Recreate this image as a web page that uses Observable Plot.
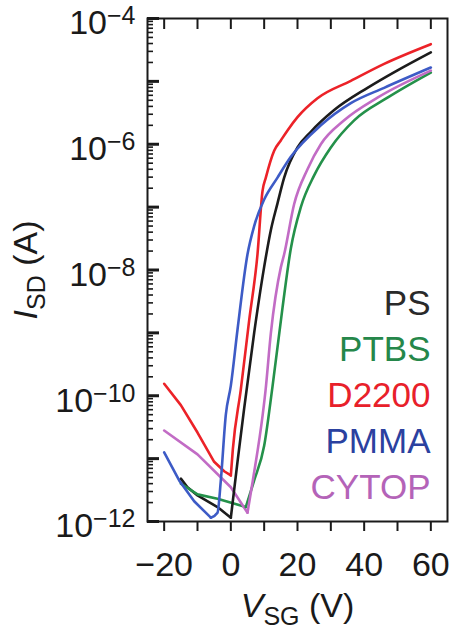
<!DOCTYPE html>
<html><head><meta charset="utf-8">
<script src="https://cdn.jsdelivr.net/npm/d3@7"></script>
<script src="https://cdn.jsdelivr.net/npm/@observablehq/plot@0.6"></script>
<style>
html,body{margin:0;padding:0;background:#fff;}
#chart svg{display:block;}
</style></head><body><div id="chart"></div>
<script>
// ---- data ----
const series = ["PS", "PTBS", "D2200", "PMMA", "CYTOP"];
const lineColors = ["#1c1c1c", "#24914a", "#ec2228", "#3d5bc6", "#c26cc5"];
const legendColors = ["#2a2a2a", "#25874a", "#e8202a", "#2b419f", "#b463b8"];

const psV = [-15, -13, -10, -4, 0, 2, 4, 7, 10, 12, 14, 16, 20, 24, 31, 41, 50, 60];
const psI = [4.8e-12, 3.5e-12, 2.6e-12, 1.7e-12, 1.15e-12, 8.9e-12, 6.3e-11, 1.0e-9, 1.12e-8, 4.3e-8, 1.15e-7, 2.95e-7, 8.9e-7, 1.58e-6, 3.5e-6, 7.9e-6, 1.5e-5, 2.9e-5];

const ptbsV = [-15, -10, -4, 4.5, 7, 10, 12.5, 15.5, 18, 21, 25, 30, 37, 47, 60];
const ptbsI = [4.0e-12, 2.7e-12, 2.3e-12, 1.7e-12, 4.5e-12, 1.6e-11, 1.4e-10, 2.5e-9, 2.2e-8, 1.0e-7, 3.2e-7, 8.9e-7, 2.4e-6, 5.5e-6, 1.38e-5];

const d2200V = [-20, -15, -10, -5, -2, 0, 0.6, 3, 5.5, 8, 9.5, 10.5, 13, 15, 17, 20, 26, 36, 46, 60];
const d2200I = [1.55e-10, 7.1e-11, 2.6e-11, 8.9e-12, 6.3e-12, 5.4e-12, 1.4e-11, 1.26e-10, 1.58e-9, 1.78e-8, 1.8e-7, 2.95e-7, 7.9e-7, 1.15e-6, 1.66e-6, 2.7e-6, 5.4e-6, 1.02e-5, 1.9e-5, 3.9e-5];

const pmmaV = [-20, -15.5, -11, -6, -4, -3, -1.5, 0, 2, 5, 7, 10, 14, 18, 27, 36, 46, 60];
const pmmaI = [1.26e-11, 4.5e-12, 2.1e-12, 1.15e-12, 1.38e-12, 4.5e-12, 5.0e-11, 1.45e-10, 1.12e-9, 1.78e-8, 5.0e-8, 1.32e-7, 2.95e-7, 6.3e-7, 2.0e-6, 4.5e-6, 7.9e-6, 1.66e-5];

const cytopV = [-20, -10, 0, 5, 6.6, 9.6, 10.4, 12, 15, 16, 19, 23, 27, 34, 44, 60];
const cytopI = [2.8e-11, 1.17e-11, 3.5e-12, 1.38e-12, 4.5e-12, 5.2e-11, 1.2e-10, 9.8e-10, 1.1e-8, 1.78e-8, 1.12e-7, 4.0e-7, 1.0e-6, 2.4e-6, 5.5e-6, 1.48e-5];

const xTicks = [-20, -10, 0, 10, 20, 30, 40, 50, 60];
const xTickLabels = [-20, 0, 20, 40, 60];
const yDecades = [-12, -11, -10, -9, -8, -7, -6, -5, -4];
const yLabelExps = [-12, -10, -8, -6, -4];
const xTitle = [{t: "V", italic: true}, {t: "SG", sub: true}, {t: " (V)"}];
const yTitle = [{t: "I", italic: true}, {t: "SD", sub: true}, {t: " (A)"}];

// ---- build tables: off-branch (down to the minimum) and on-branch (from the minimum) ----
const seriesV = [psV, ptbsV, d2200V, pmmaV, cytopV];
const seriesI = [psI, ptbsI, d2200I, pmmaI, cytopI];
const offRows = [], onRows = [];
series.forEach((s, k) => {
  const I = seriesI[k];
  const iMin = I.indexOf(Math.min(...I));
  seriesV[k].forEach((v, j) => {
    const r = {series: s, V: v, I: I[j]};
    if (j <= iMin) offRows.push(r);
    if (j >= iMin) onRows.push(r);
  });
});

const yMajor = yDecades.map(e => Math.pow(10, e));
const yMinor = yDecades.slice(0, -1).flatMap(e => [2,3,4,5,6,7,8,9].map(m => m * Math.pow(10, e)));
const yLabelVals = yLabelExps.map(e => Math.pow(10, e));
const minus = n => (n < 0 ? "\u2212" + (-n) : String(n));
const plain = parts => parts.map(p => p.t).join("");

const FONT = "'Liberation Sans', Arial, Helvetica, sans-serif";
const FS = 34;

const chart = Plot.plot({
  width: 453, height: 630,
  marginLeft: 147, marginRight: 6, marginTop: 18, marginBottom: 109,
  style: {fontFamily: FONT, background: "#fff", color: "#1a1a1a", overflow: "visible"},
  x: {domain: [-25, 65]},
  y: {type: "log", domain: [1e-12, 1e-4]},
  color: {domain: series, range: lineColors},
  marks: [
    Plot.line(offRows, {x: "V", y: "I", z: "series", stroke: "series", strokeWidth: 2.6, strokeLinejoin: "round", strokeLinecap: "round"}),
    Plot.line(onRows, {x: "V", y: "I", z: "series", stroke: "series", curve: "monotone-x", strokeWidth: 2.6, strokeLinejoin: "round", strokeLinecap: "round"}),
    Plot.axisX({anchor: "top", ticks: xTicks, tickSize: -10, strokeWidth: 2, tickFormat: () => "", label: null}),
    Plot.axisX({anchor: "bottom", ticks: xTicks, tickSize: 10, strokeWidth: 2, tickPadding: 20, fontSize: FS,
      tickFormat: d => xTickLabels.includes(d) ? minus(d) : "", label: null}),
    Plot.axisY({anchor: "left", ticks: yMinor, tickSize: -6, strokeWidth: 1.6, tickFormat: () => "", label: null}),
    Plot.axisY({anchor: "left", ticks: yMajor, tickSize: -12, strokeWidth: 3, tickFormat: () => "", label: null}),
    Plot.axisY({anchor: "left", ticks: yLabelVals, tickSize: 0, tickPadding: 12, fontSize: FS, dy: 5,
      tickFormat: d => "10^" + minus(Math.round(Math.log10(d))), label: null}),
    Plot.frame({stroke: "#1a1a1a", strokeWidth: 2}),
    ...series.map((s, i) => Plot.text([s], {text: d => d, frameAnchor: "top-right", textAnchor: "end", lineAnchor: "middle",
      dx: -17, dy: 285 + 46 * i, fill: legendColors[i], fontSize: 35})),
    Plot.text([plain(yTitle)], {text: d => d, frameAnchor: "left", textAnchor: "middle", rotate: -90, lineAnchor: "middle", dx: -121, fontSize: FS, fill: "#1a1a1a"}),
    Plot.text([plain(xTitle)], {text: d => d, frameAnchor: "bottom", textAnchor: "middle", lineAnchor: "middle", dy: 85, fontSize: FS, fill: "#1a1a1a"})
  ]
});

// rich text: superscripts / subscripts / italics
function setParts(t, parts) {
  while (t.firstChild) t.removeChild(t.firstChild);
  let shift = 0;
  for (const p of parts) {
    const ts = document.createElementNS("http://www.w3.org/2000/svg", "tspan");
    ts.textContent = p.t;
    const want = p.sub ? 8 : p.sup ? -10 : 0;
    if (want !== shift) { ts.setAttribute("dy", want - shift); shift = want; }
    if (p.sub || p.sup) ts.setAttribute("font-size", 25);
    if (p.italic) ts.setAttribute("font-style", "italic");
    t.appendChild(ts);
  }
}
chart.querySelectorAll("text").forEach(t => {
  const s = t.textContent;
  if (s === plain(yTitle)) setParts(t, yTitle);
  else if (s === plain(xTitle)) setParts(t, xTitle);
  else if (s.includes("^")) {
    const [base, sup] = s.split("^");
    setParts(t, [{t: base}, {t: sup, sup: true}]);
  }
});
document.getElementById("chart").appendChild(chart);
</script></body></html>
